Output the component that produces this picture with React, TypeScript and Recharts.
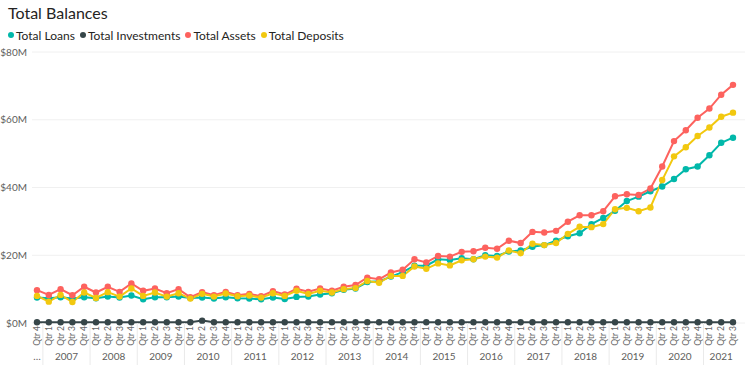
import React from 'react';
import { LineChart, Line, XAxis, YAxis, CartesianGrid, Legend } from 'recharts';

const FONT = 'Lato, "Open Sans", sans-serif';

// quarters shown per year (series starts 2006 Qtr 4, ends 2021 Qtr 3)
const years = ['2006', '2007', '2008', '2009', '2010', '2011', '2012', '2013', '2014', '2015', '2016', '2017', '2018', '2019', '2020', '2021'];
const firstYearQuarters = [4];
const lastYearQuarters = [1, 2, 3];
const fullYearQuarters = [1, 2, 3, 4];

// $M
const loans = [
  7.5, 7.3, 7.6, 7.2, 7.6, 7.3, 7.8, 7.5, 8.1, 7.0,
  7.6, 7.6, 7.8, 7.4, 7.5, 7.2, 7.6, 7.3, 7.2, 7.0,
  7.5, 7.1, 7.7, 7.8, 8.4, 8.8, 9.8, 10.2, 12.1, 12.3,
  13.7, 15.0, 16.9, 16.9, 18.8, 18.6, 19.1, 18.8, 20.0, 19.8,
  21.1, 21.4, 22.5, 23.0, 24.3, 25.6, 26.5, 29.2, 31.0, 33.1,
  36.0, 37.3, 38.9, 40.3, 42.5, 45.4, 46.2, 49.5, 53.2, 54.7,
];
const investments = [
  0.2, 0.2, 0.2, 0.2, 0.2, 0.2, 0.2, 0.2, 0.2, 0.2,
  0.2, 0.2, 0.2, 0.2, 0.7, 0.2, 0.2, 0.2, 0.2, 0.2,
  0.2, 0.2, 0.2, 0.2, 0.2, 0.2, 0.2, 0.2, 0.2, 0.2,
  0.2, 0.2, 0.2, 0.2, 0.2, 0.2, 0.2, 0.2, 0.2, 0.2,
  0.2, 0.2, 0.2, 0.2, 0.2, 0.2, 0.2, 0.2, 0.2, 0.2,
  0.2, 0.2, 0.2, 0.2, 0.2, 0.2, 0.2, 0.2, 0.2, 0.2,
];
const assets = [
  9.7, 8.3, 10.0, 8.2, 10.7, 9.0, 10.7, 9.2, 11.7, 9.5,
  10.2, 8.8, 10.0, 7.6, 9.1, 8.2, 9.2, 8.2, 8.6, 7.9,
  9.4, 8.4, 10.1, 9.2, 10.2, 9.5, 10.7, 11.2, 13.4, 12.9,
  14.9, 15.7, 18.8, 17.9, 19.8, 19.6, 21.0, 21.2, 22.2, 21.9,
  24.3, 23.6, 26.9, 26.7, 27.2, 29.9, 31.8, 31.8, 33.0, 37.4,
  38.0, 37.8, 39.7, 46.2, 53.7, 56.9, 60.6, 63.3, 67.4, 70.3,
];
const deposits = [
  8.0, 6.3, 8.3, 6.2, 9.0, 7.4, 9.1, 7.8, 10.2, 8.0,
  9.0, 7.8, 8.8, 7.2, 8.6, 7.8, 8.7, 7.9, 8.1, 7.5,
  8.8, 8.0, 9.5, 8.6, 9.5, 9.0, 10.0, 10.3, 12.4, 11.9,
  13.9, 13.9, 16.7, 16.0, 17.6, 17.0, 18.5, 18.8, 19.6, 19.3,
  21.4, 20.6, 23.4, 23.0, 23.6, 26.3, 28.4, 28.3, 29.2, 33.6,
  34.0, 33.0, 34.1, 42.2, 49.2, 51.9, 55.2, 57.7, 60.9, 62.1,
];
const yTicks = [0, 20, 40, 60, 80];

const series = [
  { key: 'loans', name: 'Total Loans', color: '#01B8AA' },
  { key: 'investments', name: 'Total Investments', color: '#374649' },
  { key: 'assets', name: 'Total Assets', color: '#FD625E' },
  { key: 'deposits', name: 'Total Deposits', color: '#F2C80F' },
];

const quartersOf = (i: number) =>
  i === 0 ? firstYearQuarters : i === years.length - 1 ? lastYearQuarters : fullYearQuarters;

const periods = years.flatMap((year, i) => quartersOf(i).map((q) => ({ year, q })));

const data = periods.map((p, i) => ({
  idx: i,
  period: `${p.year} Qtr ${p.q}`,
  quarter: `Qtr ${p.q}`,
  loans: loans[i],
  investments: investments[i],
  assets: assets[i],
  deposits: deposits[i],
}));

// year labels centred under their quarters, separators between years
const yearTickInfo = new Map<number, { kind: 'label' | 'sep'; label?: string }>();
{
  let start = 0;
  years.forEach((year, i) => {
    const n = quartersOf(i).length;
    const end = start + n - 1;
    yearTickInfo.set((start + end) / 2, { kind: 'label', label: i === 0 ? '…' : year });
    if (i < years.length - 1) yearTickInfo.set(end + 0.5, { kind: 'sep' });
    start = end + 1;
  });
}
const yearTicks = Array.from(yearTickInfo.keys()).sort((a, b) => a - b);

const QuarterTick = (props: any) => {
  const { x, y, payload } = props;
  const top = y + 3;
  return (
    <text
      x={x}
      y={top}
      transform={`rotate(-90, ${x}, ${top})`}
      textAnchor="end"
      dominantBaseline="central"
      fontSize={8.5}
      fontFamily={FONT}
      fill="#666666"
    >
      {data[payload.index]?.quarter ?? ''}
    </text>
  );
};

const YearTick = (props: any) => {
  const { x, y, payload } = props;
  const info = yearTickInfo.get(payload.value);
  if (!info) return <g />;
  if (info.kind === 'sep') {
    return <line x1={x} x2={x} y1={y - 28} y2={y + 14} stroke="#EAEAEA" strokeWidth={1} />;
  }
  return (
    <text x={x} y={y + 9} textAnchor="middle" fontSize={10} fontFamily={FONT} fill="#605E5C">
      {info.label}
    </text>
  );
};

const LegendContent = () => (
  <div
    style={{
      display: 'flex',
      alignItems: 'center',
      height: 16,
      fontSize: 12,
      fontFamily: FONT,
      color: '#252423',
      whiteSpace: 'nowrap',
    }}
  >
    {series.map((s) => (
      <span key={s.key} style={{ display: 'flex', alignItems: 'center', marginRight: 5 }}>
        <span
          style={{
            display: 'inline-block',
            width: 6,
            height: 6,
            borderRadius: '50%',
            background: s.color,
            marginRight: 2,
          }}
        />
        {s.name}
      </span>
    ))}
  </div>
);

const App = () => {
  return (
    <div style={{ position: 'absolute', left: 0, top: 0, width: 750, height: 376, background: '#fff' }}>
      <div
        style={{
          position: 'absolute',
          left: 8,
          top: 3,
          fontSize: 16,
          fontFamily: FONT,
          color: '#252423',
          lineHeight: '20px',
        }}
      >
        Total Balances
      </div>
      <LineChart width={750} height={376} data={data} margin={{ top: 36, right: 5, bottom: 0, left: 0 }}>
        <Legend
          verticalAlign="top"
          align="left"
          content={<LegendContent />}
          wrapperStyle={{ top: 27, left: 8, width: 'auto' }}
        />
        <CartesianGrid vertical={false} stroke="#F0F0F0" />
        <XAxis
          dataKey="period"
          interval={0}
          height={28}
          axisLine={false}
          tickLine={false}
          tickSize={0}
          tickMargin={0}
          padding={{ left: 5, right: 12 }}
          tick={<QuarterTick />}
        />
        <XAxis
          xAxisId="yr"
          type="number"
          dataKey="idx"
          domain={[0, data.length - 1]}
          ticks={yearTicks}
          interval={0}
          height={25}
          axisLine={false}
          tickLine={false}
          tickSize={0}
          tickMargin={0}
          padding={{ left: 5, right: 12 }}
          tick={<YearTick />}
        />
        <YAxis
          width={32}
          domain={[0, 80]}
          ticks={yTicks}
          axisLine={false}
          tickLine={false}
          tickSize={3}
          tickMargin={2}
          tickFormatter={(v) => `$${v}M`}
          tick={{ fontSize: 10, fill: '#605E5C', fontFamily: FONT }}
        />
        {series.map((s) => (
          <Line
            key={s.key}
            type="linear"
            dataKey={s.key}
            name={s.name}
            stroke={s.color}
            strokeWidth={2}
            dot={{ r: 3.2, fill: s.color, stroke: s.color, strokeWidth: 0 }}
            activeDot={false}
            isAnimationActive={false}
          />
        ))}
      </LineChart>
    </div>
  );
};

export default App;
